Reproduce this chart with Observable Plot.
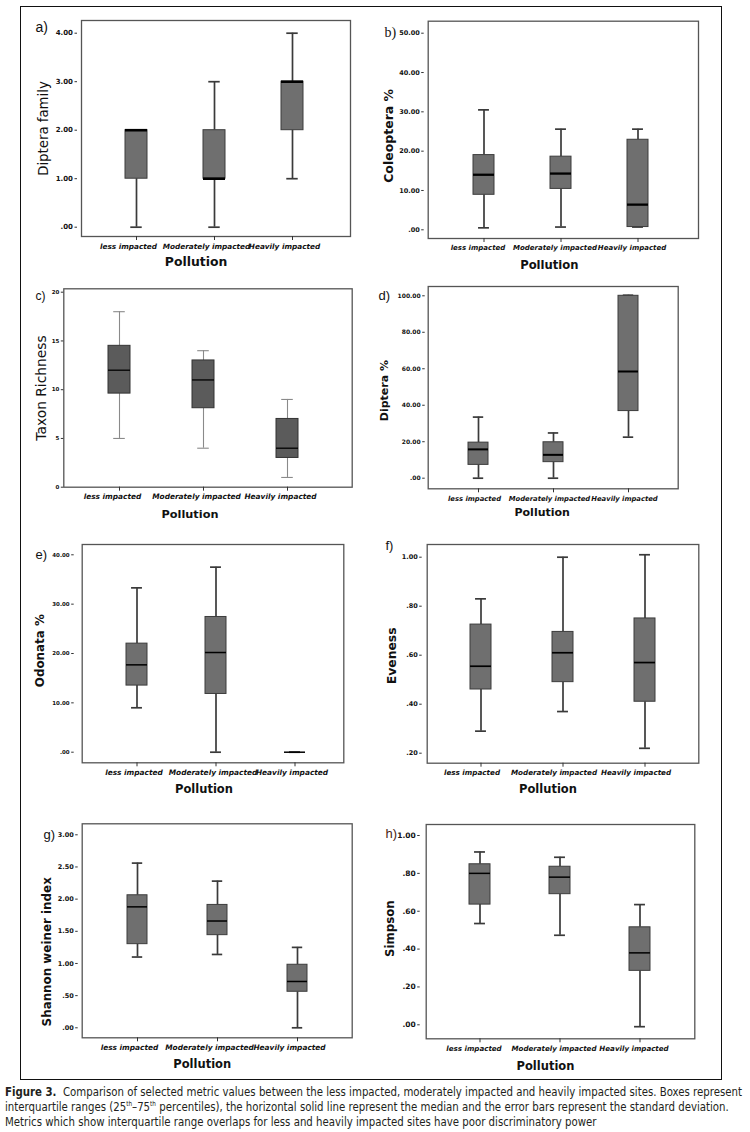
<!DOCTYPE html>
<html><head><meta charset="utf-8">
<script src="https://cdn.jsdelivr.net/npm/d3@7"></script>
<script src="https://cdn.jsdelivr.net/npm/@observablehq/plot@0.6"></script>
<style>
html,body{margin:0;padding:0;background:#fff;}
#fig{position:relative;width:750px;height:1132px;overflow:hidden;background:#fff;}
#border{position:absolute;left:20px;top:6px;width:702px;height:1074px;border:1.4px solid #111;box-sizing:border-box;}
.panel{position:absolute;}
.panel svg{overflow:visible;}
.cap{position:absolute;left:5px;white-space:nowrap;font-family:"Liberation Sans Narrow","DejaVu Sans Condensed","Roboto Condensed","Liberation Sans",sans-serif;font-size:12.5px;line-height:15px;color:#231f20;transform-origin:0 0;}
.cap sup{font-size:7px;vertical-align:5px;line-height:0;}
</style></head><body><div id="fig"><div id="border"></div></div>
<script>
// ---------- data ----------
const categories = ["less impacted", "Moderately impacted", "Heavily impacted"];
// each row: [lower whisker, 25th pct, median, 75th pct, upper whisker] for less / moderately / heavily impacted
const dipteraFamilyStats = [[0, 1, 2, 2, 2], [0, 1, 1, 2, 3], [1, 2, 3, 3, 4]];
const coleopteraStats = [[0.5, 8.9, 14.0, 19.0, 30.5], [0.7, 10.4, 14.3, 18.6, 25.6], [0.7, 0.7, 6.4, 22.9, 25.6]];
const taxonRichnessStats = [[5, 9.6, 12, 14.5, 18], [4, 8.1, 11, 13, 14], [1, 3, 4, 7, 9]];
const dipteraPctStats = [[0, 7.3, 15.8, 19.5, 33.5], [0, 8.8, 12.8, 19.7, 24.8], [22.5, 36.8, 58.5, 100, 100.3]];
const odonataStats = [[9, 13.5, 17.7, 22, 33.3], [0, 11.8, 20.2, 27.4, 37.5], [0, 0, 0, 0, 0]];
const evenessStats = [[0.29, 0.46, 0.555, 0.725, 0.83], [0.37, 0.49, 0.61, 0.695, 1.0], [0.22, 0.41, 0.57, 0.75, 1.01]];
const shannonStats = [[1.1, 1.3, 1.88, 2.06, 2.56], [1.14, 1.44, 1.66, 1.91, 2.28], [0, 0.56, 0.72, 0.98, 1.25]];
const simpsonStats = [[0.535, 0.635, 0.80, 0.848, 0.913], [0.473, 0.69, 0.78, 0.835, 0.885], [-0.01, 0.285, 0.38, 0.515, 0.635]];

const dipteraFamilyTicks = [0, 1, 2, 3, 4];
const coleopteraTicks = [0, 10, 20, 30, 40, 50];
const taxonRichnessTicks = [0, 5, 10, 15, 20];
const dipteraPctTicks = [0, 20, 40, 60, 80, 100];
const odonataTicks = [0, 10, 20, 30, 40];
const evenessTicks = [0.2, 0.4, 0.6, 0.8, 1.0];
const shannonTicks = [0, 0.5, 1, 1.5, 2, 2.5, 3];
const simpsonTicks = [0, 0.2, 0.4, 0.6, 0.8, 1.0];

const panelLabels = ["a)", "b)", "c)", "d)", "e)", "f)", "g)", "h)"];
const yTitles = ["Diptera family", "Coleoptera %", "Taxon Richness", "Diptera %", "Odonata %", "Eveness", "Shannon weiner index", "Simpson"];
const xTitle = "Pollution";
const captionLines = [
  '<b>Figure 3.</b>&nbsp; Comparison of selected metric values between the less impacted, moderately impacted and heavily impacted sites. Boxes represent',
  'interquartile ranges (25<sup>th</sup>–75<sup>th</sup> percentiles), the horizontal solid line represent the median and the error bars represent the standard deviation.',
  'Metrics which show interquartile range overlaps for less and heavily impacted sites have poor discriminatory power'
];

// ---------- helpers ----------
const spss = v => d3.format(".2f")(v).replace(/^0\./, ".").replace(/^-0\./, "-.");
const intFmt = v => String(v);
const toRows = stats => stats.map((s, i) => ({cat: categories[i], low: s[0], q1: s[1], median: s[2], q3: s[3], high: s[4]}));

// layout (absolute page pixels)
const L = {ox: 21, w: 350}, R = {ox: 372, w: 349};
const panels = [
  {stats: dipteraFamilyStats, ticks: dipteraFamilyTicks, fmt: spss, col: L, oy: 7, h: 271, frame: [81, 20, 350, 236], yPx: [226.7, 32.7], cx: [135, 292], bw: 22, med: 2.6,
   titleW: "normal", titleSize: 13.3, titleDx: -38, titleDy: 0, tickSize: 7, tickDx: -4, catSize: 7.3, catDx: -8, lab: {x: 35, y: 27, font: "Liberation Sans", size: 14}, polSize: 12.4, polDx: -20, polDy: 26},
  {stats: coleopteraStats, ticks: coleopteraTicks, fmt: spss, col: R, oy: 7, h: 271, frame: [427.7, 20.7, 698, 238], yPx: [229.3, 32.7], cx: [482.5, 637.5], bw: 21, med: 2.3,
   titleW: "bold", titleSize: 12.5, titleDx: -39, titleDy: 6, tickSize: 6.5, tickDx: -4, catSize: 7.0, catDx: -6, lab: {x: 384, y: 32, font: "Liberation Serif", size: 14}, polSize: 11.6, polDx: -14, polDy: 27},
  {stats: taxonRichnessStats, ticks: taxonRichnessTicks, fmt: intFmt, col: L, oy: 278, h: 254, frame: [63.3, 288.3, 351.7, 486.7], yPx: [486.7, 291.7], cx: [119, 287], bw: 21.7, med: 1.3,
   titleW: "normal", titleSize: 13.8, titleDx: -22, titleDy: 0, tickSize: 5.5, tickDx: 0, catSize: 7.4, catDx: -7, lab: {x: 35, y: 296, font: "Liberation Sans", size: 12}, polSize: 11.3, polDx: -18, polDy: 27.5, light: true},
  {stats: dipteraPctStats, ticks: dipteraPctTicks, fmt: spss, col: R, oy: 278, h: 254, frame: [427.7, 286, 677.7, 488.3], yPx: [477.7, 295.3], cx: [477.5, 627.5], bw: 20, med: 2,
   titleW: "bold", titleSize: 11, titleDx: -44, titleDy: 3, tickSize: 6, tickDx: -3, catSize: 6.8, catDx: -4, lab: {x: 378, y: 295, font: "Liberation Sans", size: 13}, polSize: 11, polDx: -11, polDy: 24},
  {stats: odonataStats, ticks: odonataTicks, fmt: spss, col: L, oy: 532, h: 276, frame: [81.7, 544, 343.3, 762.3], yPx: [751.7, 554.3], cx: [135.8, 295], bw: 21, med: 1.5,
   titleW: "bold", titleSize: 11.9, titleDx: -42, titleDy: -3, tickSize: 5.5, tickDx: -8, catSize: 7.4, catDx: -3, lab: {x: 35, y: 554, font: "Liberation Sans", size: 13}, polSize: 11.5, polDx: -9, polDy: 27},
  {stats: evenessStats, ticks: evenessTicks, fmt: spss, col: R, oy: 532, h: 276, frame: [426.7, 544, 698.3, 762.7], yPx: [752.7, 556.7], cx: [480.3, 645], bw: 21, med: 1.7,
   titleW: "bold", titleSize: 12.4, titleDx: -35, titleDy: 2, tickSize: 6.5, tickDx: -5, catSize: 7.2, catDx: -9, lab: {x: 385, y: 545, font: "Liberation Sans", size: 13}, polSize: 11.5, polDx: -15, polDy: 26.6},
  {stats: shannonStats, ticks: shannonTicks, fmt: spss, col: L, oy: 808, h: 270, frame: [81.7, 823.3, 351.7, 1037.3], yPx: [1027.3, 834.3], cx: [136.3, 297.3], bw: 20, med: 1.5,
   titleW: "bold", titleSize: 11.9, titleDx: -35, titleDy: 21, tickSize: 6.5, tickDx: -4, catSize: 7.4, catDx: -8, lab: {x: 43, y: 834, font: "Liberation Sans", size: 13}, polSize: 11.5, polDx: -15, polDy: 27},
  {stats: simpsonStats, ticks: simpsonTicks, fmt: spss, col: R, oy: 808, h: 270, frame: [425.7, 824, 694.3, 1038.3], yPx: [1024.3, 835], cx: [478.8, 639.8], bw: 21, med: 1.5,
   titleW: "bold", titleSize: 11.8, titleDx: -36, titleDy: -3, tickSize: 7.5, tickDx: -6, catSize: 7.1, catDx: -6, lab: {x: 385, y: 833, font: "Liberation Sans", size: 13, color: "#4a1e12"}, polSize: 11.5, polDx: -15, polDy: 27.4}
];

const fig = document.getElementById("fig");
panels.forEach((p, i) => {
  const ox = p.col.ox, oy = p.oy, w = p.col.w, h = p.h;
  const [fl, ft, fr, fb] = p.frame;
  const rows = toRows(p.stats);
  const step = (p.cx[1] - p.cx[0]) / 2;
  const pin = 1 - p.bw / step;
  const light = !!p.light;
  const boxFill = light ? "#5b5b5b" : "#6f6f6f";
  const boxStroke = light ? "#333" : "#3c3c3c";
  const whisk = light ? "#8a8a8a" : "#3a3a3a";
  const whiskW = light ? 1.1 : 1.7;
  const capInset = p.bw * 0.24;
  const chart = Plot.plot({
    width: w, height: h,
    marginLeft: fl - ox, marginRight: ox + w - fr, marginTop: ft - oy, marginBottom: oy + h - fb,
    style: {background: "transparent", overflow: "visible", fontFamily: "DejaVu Sans", color: "#111"},
    x: {type: "band", domain: categories, range: [p.cx[0] - step / 2 - ox, p.cx[1] + step / 2 - ox], paddingInner: pin, paddingOuter: pin / 2, align: 0.5, axis: null},
    y: {domain: [p.ticks[0], p.ticks[p.ticks.length - 1]], range: [p.yPx[0] - oy, p.yPx[1] - oy], axis: null},
    marks: [
      Plot.frame({stroke: "#555", strokeWidth: 1.3}),
      Plot.ruleX(rows, {x: "cat", y1: "low", y2: "q1", stroke: whisk, strokeWidth: whiskW}),
      Plot.ruleX(rows, {x: "cat", y1: "q3", y2: "high", stroke: whisk, strokeWidth: whiskW}),
      Plot.tickY(rows, {x: "cat", y: "low", stroke: whisk, strokeWidth: whiskW, insetLeft: capInset, insetRight: capInset}),
      Plot.tickY(rows, {x: "cat", y: "high", stroke: whisk, strokeWidth: whiskW, insetLeft: capInset, insetRight: capInset}),
      Plot.barY(rows, {x: "cat", y1: "q1", y2: "q3", fill: boxFill, stroke: boxStroke, strokeWidth: 1}),
      Plot.tickY(rows, {x: "cat", y: "median", stroke: "#000", strokeWidth: p.med}),
      Plot.axisX({label: null, tickSize: 4, tickFormat: () => "", stroke: "#333"}),
      Plot.axisX({label: null, tickSize: 0, tickPadding: 7, dx: p.catDx, fontSize: p.catSize, fontWeight: "bold", fontStyle: "italic"}),
      Plot.axisY({label: null, ticks: p.ticks, tickFormat: p.fmt, tickSize: 2.5, tickPadding: 2, dx: p.tickDx, fontSize: p.tickSize, fontWeight: "bold", stroke: "#333"}),
      Plot.text([yTitles[i]], {text: d => d, frameAnchor: "left", textAnchor: "middle", lineAnchor: "middle", dx: p.titleDx, dy: p.titleDy, rotate: -90, fontSize: p.titleSize, fontWeight: p.titleW, fill: "#111"}),
      Plot.text([xTitle], {text: d => d, frameAnchor: "bottom", textAnchor: "middle", lineAnchor: "middle", dx: p.polDx, dy: p.polDy, fontSize: p.polSize, fontWeight: "bold", fill: "#111"}),
      Plot.text([panelLabels[i]], {text: d => d, frameAnchor: "top-left", textAnchor: "start", lineAnchor: "middle", dx: p.lab.x - fl, dy: p.lab.y - ft, fontFamily: p.lab.font, fontSize: p.lab.size, fill: p.lab.color || "#111"})
    ]
  });
  const div = document.createElement("div");
  div.className = "panel";
  div.style.left = ox + "px";
  div.style.top = oy + "px";
  div.appendChild(chart);
  fig.appendChild(div);
});

// caption
const capTops = [1084, 1099, 1114];
const spans = captionLines.map((html, i) => {
  const d = document.createElement("div");
  d.className = "cap";
  d.style.top = capTops[i] + "px";
  d.innerHTML = html;
  fig.appendChild(d);
  return d;
});
const natural = spans[0].getBoundingClientRect().width;
const sx = 737 / natural;
spans.forEach(d => d.style.transform = `scaleX(${sx})`);
</script>
</body></html>
